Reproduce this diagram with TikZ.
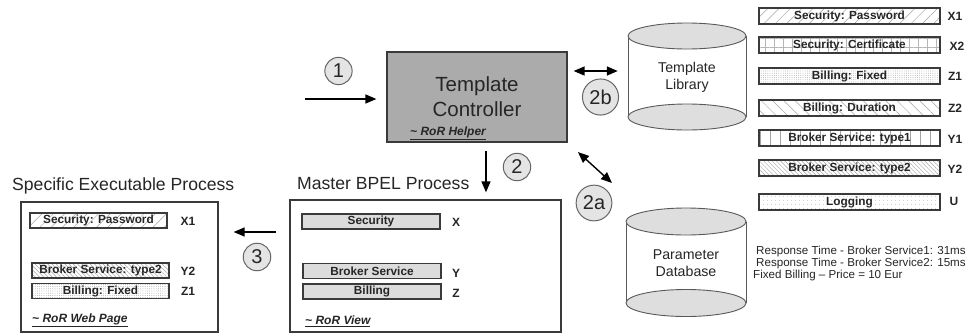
\documentclass[tikz,border=0pt]{standalone}
\usepackage{fontspec}
\setmainfont{Liberation Sans}
\usetikzlibrary{arrows.meta,patterns.meta}

\definecolor{boxgray}{HTML}{ABABAB}
\definecolor{numgray}{HTML}{E4E4E4}
\definecolor{cylgray}{HTML}{DEDEDE}
\definecolor{bargray}{HTML}{DCDCDC}
\definecolor{linegray}{HTML}{3A3A3A}
\definecolor{hatchgray}{HTML}{A4A4A4}
\definecolor{txt}{HTML}{262626}

\tikzset{
  ctrlbox/.style={draw=linegray, line width=1.2pt, fill=boxgray, minimum width=180pt,
    minimum height=90pt, align=center, font=\fontsize{20.5}{25}\selectfont, text=txt},
  procbox/.style={draw=linegray, line width=1.3pt, fill=white},
  title/.style={anchor=west, inner sep=0pt, font=\fontsize{17.6}{20}\selectfont, text=txt},
  num/.style={circle, draw=black!60, line width=1pt, fill=numgray, inner sep=3.4pt,
    font=\fontsize{20}{22}\selectfont, text=txt},
  bar/.style={draw=linegray, line width=1.3pt, inner sep=0pt, minimum height=15pt,
    font=\bfseries\fontsize{11.8}{12}\selectfont, text=txt},
  slot/.style={bar, fill=bargray, minimum width=138pt},
  tmpl/.style={bar, minimum width=181pt, minimum height=16pt},
  tag/.style={font=\bfseries\fontsize{12}{12}\selectfont, text=txt},
  ror/.style={anchor=west, inner sep=0pt, font=\bfseries\itshape\fontsize{12}{12}\selectfont, text=txt},
  cyltext/.style={align=center, font=\fontsize{14.2}{17}\selectfont, text=txt},
  cylline/.style={draw=black!65, line width=0.9pt},
  note/.style={anchor=west, inner sep=0pt, font=\fontsize{11.6}{12}\selectfont, text=txt},
  arr/.style={-{Triangle[length=11pt,width=9pt]}, line width=1.4pt},
  dbl/.style={{Triangle[length=11pt,width=9pt]}-{Triangle[length=11pt,width=9pt]}, line width=1.4pt},
  % fill patterns of the template parts
  pPwd/.style={pattern={Lines[angle=45,distance=8pt,line width=0.5pt]}, pattern color=hatchgray},
  pCert/.style={pattern={Hatch[angle=0,distance=9pt,line width=0.5pt]}, pattern color=hatchgray!80},
  pFix/.style={pattern={Dots[distance=2.2pt,radius=0.45pt]}, pattern color=hatchgray},
  pDur/.style={pattern={Lines[angle=-45,distance=8pt,line width=0.5pt]}, pattern color=hatchgray},
  pTa/.style={pattern={Lines[angle=90,distance=10pt,line width=0.5pt]}, pattern color=hatchgray},
  pTb/.style={pattern={Lines[angle=-45,distance=3pt,line width=0.5pt]}, pattern color=hatchgray},
  pLog/.style={pattern={Dots[distance=4pt,radius=0.5pt]}, pattern color=hatchgray},
}

\begin{document}
\begin{tikzpicture}[x=1pt,y=-1pt]
	\fill[white] (0,0) rectangle (971,335);
	\useasboundingbox (0,0) rectangle (971,335);

	% template controller
	\node[ctrlbox] (ctrl) at (477,97) {Template\\Controller};
	\node[ror] (help) at (410,133) {\underline{\textasciitilde{} RoR Helper}};

	% template library
	\fill[white] (628,36) rectangle (746,117);
	\draw[cylline] (628,36) -- (628,117) (746,36) -- (746,117);
	\draw[cylline, fill=cylgray] (687,117) ellipse [x radius=59, y radius=13];
	\draw[cylline, fill=cylgray] (687,36) ellipse [x radius=59, y radius=13];
	\node[cyltext, minimum width=118pt] (lib) at (687,77) {Template\\Library};

	% parameter database
	\fill[white] (626,221.5) rectangle (746,303);
	\draw[cylline] (626,221.5) -- (626,303) (746,221.5) -- (746,303);
	\draw[cylline, fill=cylgray] (686,303) ellipse [x radius=60, y radius=13.5];
	\draw[cylline, fill=cylgray] (686,221.5) ellipse [x radius=60, y radius=13.5];
	\node[cyltext, minimum width=120pt] (pdb) at (686,263) {Parameter\\Database};

	% master process
	\node[procbox, minimum width=271pt, minimum height=132pt] (master) at (425.5,266) {};
	\node[title] (mtitle) at (297,184) {Master BPEL Process};
	\node[slot] (msec) at (371,221.5) {Security};
	\node[slot] (mbro) at (372,271) {Broker Service};
	\node[slot] (mbil) at (372,291.5) {Billing};
	\node[tag] (mx) at (456,222) {X};
	\node[tag] (my) at (456,273) {Y};
	\node[tag] (mz) at (456,293) {Z};
	\node[ror] (view) at (305,321) {\underline{\textasciitilde{} RoR View}};

	% specific process
	\node[procbox, minimum width=197pt, minimum height=130pt] (spec) at (119.5,267) {};
	\node[title] (stitle) at (12,186) {Specific Executable Process};
	\node[bar, pPwd, minimum width=137pt] (ssec) at (98.5,220.5) {Security: Password};
	\node[bar, pTb, minimum width=137pt] (sbro) at (100.5,270.5) {Broker Service: type2};
	\node[bar, pFix, minimum width=137pt] (sbil) at (100.5,291) {Billing: Fixed};
	\node[tag] (sx) at (188,221) {X1};
	\node[tag] (sy) at (188,271) {Y2};
	\node[tag] (sz) at (188,291) {Z1};
	\node[ror] (web) at (32,320) {\underline{\textasciitilde{} RoR Web Page}};

	% library parts
	\node[tmpl, pPwd] (tx1) at (849.5,16) {Security: Password};
	\node[tmpl, pCert] (tx2) at (849.5,45) {Security: Certificate};
	\node[tmpl, pFix] (tz1) at (849.5,76) {Billing: Fixed};
	\node[tmpl, pDur] (tz2) at (849.5,108) {Billing: Duration};
	\node[tmpl, pTa] (ty1) at (849.5,138) {Broker Service: type1};
	\node[tmpl, pTb] (ty2) at (849.5,168) {Broker Service: type2};
	\node[tmpl, pLog] (tu) at (849.5,202) {Logging};
	\node[tag] (lx1) at (955,16) {X1};
	\node[tag] (lx2) at (957,46) {X2};
	\node[tag] (lz1) at (955,76) {Z1};
	\node[tag] (lz2) at (955,108) {Z2};
	\node[tag] (ly1) at (955,139) {Y1};
	\node[tag] (ly2) at (955,169) {Y2};
	\node[tag] (lu) at (954,201) {U};

	% parameter values
	\node[note] (rt1) at (756,251) {Response Time - Broker Service1: 31ms};
	\node[note] (rt2) at (756,263) {Response Time - Broker Service2: 15ms};
	\node[note] (fb) at (753,275) {Fixed Billing -- Price = 10 Eur};

	% step numbers
	\node[num] (n1) at (338.5,71) {1};
	\node[num] (n2) at (517,167) {2};
	\node[num] (n2b) at (600.5,97) {2b};
	\node[num] (n2a) at (594,203) {2a};
	\node[num] (n3) at (257,257) {3};

	% arrows
	\coordinate (in1) at (305,99);
	\coordinate (c2) at (486,0);
	\coordinate (c3) at (0,232);
	\coordinate (c2b) at (0,71);
	\coordinate (p2a) at (612,183);
	\draw[arr, shorten >=10pt] (in1) -- (in1 -| ctrl.west);
	\draw[arr, shorten <=8pt, shorten >=7pt] (ctrl.south -| c2) -- (master.north -| c2);
	\draw[arr, shorten <=13pt, shorten >=15pt] (master.west |- c3) -- (spec.east |- c3);
	\draw[dbl, shorten <=6pt, shorten >=10pt] (ctrl.east |- c2b) -- (lib.west |- c2b);
	\draw[dbl, shorten <=14pt] (ctrl.south east) -- (p2a);

\end{tikzpicture}
\end{document}
